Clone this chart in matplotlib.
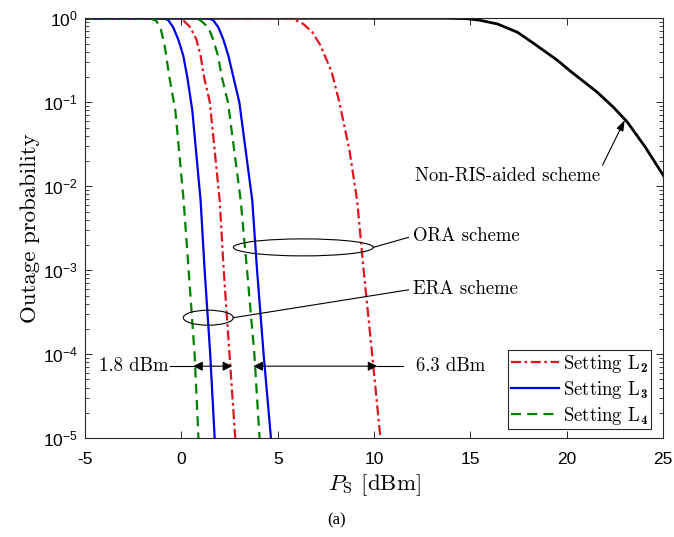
"""Outage probability versus transmit power for the ERA / ORA / non-RIS schemes."""

import matplotlib

matplotlib.use('Agg')
import matplotlib.pyplot as plt
from matplotlib.lines import Line2D
from matplotlib.patches import Ellipse
from matplotlib.ticker import LogLocator, NullFormatter

plt.rcParams.update(
    {
        'font.family': 'cmr10',
        'mathtext.fontset': 'custom',
        'mathtext.rm': 'cmr10',
        'mathtext.it': 'cmmi10',
        'mathtext.bf': 'cmb10',
        'mathtext.sf': 'Liberation Sans',
        'axes.formatter.use_mathtext': True,
    }
)

# Curves (P_S in dBm, outage probability).
ERA_L4_X = [-5, -1.9, -1.55, -1.3, -1.09, -0.88, -0.62, -0.31, 0.12, 0.38, 0.69, 0.89]
ERA_L4_Y = [1, 1, 0.985, 0.93, 0.78, 0.5, 0.2, 0.08, 0.0068, 1e-3, 1e-4, 1e-5]

ERA_L3_X = [-5, -1.05, -0.82, -0.67, -0.42, -0.16, 0.10, 0.31, 0.57, 1.0, 1.21, 1.50, 1.73]
ERA_L3_Y = [1, 1, 0.985, 0.946, 0.78, 0.56, 0.36, 0.2, 0.08, 0.0068, 1e-3, 1e-4, 1e-5]

ERA_L2_X = [-5, -0.25, -0.05, 0.10, 0.47, 0.78, 1.0, 1.18, 1.48, 1.99, 2.2, 2.5, 2.8]
ERA_L2_Y = [1, 1, 0.985, 0.946, 0.78, 0.56, 0.36, 0.2, 0.1, 0.0068, 1e-3, 1e-4, 1e-5]

ORA_L4_X = [-5, 0.6, 0.82, 0.99, 1.40, 1.65, 1.9, 2.1, 2.42, 3.08, 3.41, 3.79, 4.06]
ORA_L4_Y = [1, 1, 0.985, 0.946, 0.78, 0.56, 0.36, 0.2, 0.1, 0.0068, 1e-3, 1e-4, 1e-5]

ORA_L3_X = [-5, 1.25, 1.48, 1.66, 1.92, 2.18, 2.44, 2.70, 3.01, 3.68, 3.93, 4.27, 4.65]
ORA_L3_Y = [1, 1, 0.985, 0.946, 0.78, 0.56, 0.36, 0.2, 0.1, 0.0068, 1e-3, 1e-4, 1e-5]

ORA_L2_X = [-5, 5.2, 5.55, 5.81, 6.33, 6.8, 7.21, 7.8, 8.2, 8.72, 9.12, 9.46, 9.9, 10.33]
ORA_L2_Y = [1, 1, 0.995, 0.98, 0.855, 0.68, 0.48, 0.23, 0.1, 0.027, 0.0068, 1e-3, 1e-4, 1e-5]

NON_RIS_X = [-5, 13.8, 14.8, 15.5, 16.4, 17.44, 18.27, 19.51, 20.13, 21.59, 22.42, 23.14,
             24.08, 25]
NON_RIS_Y = [1, 1, 0.99, 0.946, 0.855, 0.681, 0.504, 0.316, 0.240, 0.131, 0.087, 0.058,
             0.029, 0.0135]

X_TICKS = [-5, 0, 5, 10, 15, 20, 25]
Y_TICKS = [1e-5, 1e-4, 1e-3, 1e-2, 1e-1, 1e0]
Y_TICK_LABELS = [r'$\mathsf{10^{-5}}$', r'$\mathsf{10^{-4}}$', r'$\mathsf{10^{-3}}$',
                 r'$\mathsf{10^{-2}}$', r'$\mathsf{10^{-1}}$', r'$\mathsf{10^{0}}$']

LEGEND_LABELS = [r'Setting L$_\mathbf{2}$', r'Setting L$_\mathbf{3}$', r'Setting L$_\mathbf{4}$']

RED = '#e0141e'
BLUE = '#0000e6'
GREEN = '#008000'
LINE_WIDTH = 1.6
DASH_DOT = (0, (4.5, 1.6, 1.2, 1.6))
DASHED = (0, (4.5, 2.8))
NOTE_SIZE = 13.5

# Gap annotations (dBm): where the two double arrows sit.
GAP_LEVEL = 7.2e-5
SMALL_GAP = (0.62, 2.64)
LARGE_GAP = (3.74, 10.17)


def _to_axes(ax, x, y):
    return (ax.transData + ax.transAxes.inverted()).transform((x, y))


def _ellipse_callout(ax, center, width, height, line_end):
    """Ellipse (in axes units so it stays round on the log axis) plus a leader line."""
    cx, cy = _to_axes(ax, *center)
    ax.add_patch(Ellipse((cx, cy), width, height, transform=ax.transAxes,
                         fill=False, edgecolor='k', linewidth=0.8, zorder=6))
    ex, ey = _to_axes(ax, *line_end)
    ax.plot([cx + width / 2, ex], [cy, ey], color='k', linewidth=0.8,
            transform=ax.transAxes, zorder=6)


def _double_arrow(ax, x0, x1, y):
    ax.annotate('', xy=(x1, y), xytext=(x0, y),
                arrowprops=dict(arrowstyle='<|-|>', color='k', lw=0.8,
                                mutation_scale=14, shrinkA=0, shrinkB=0),
                zorder=7)


def main():
    fig = plt.figure(figsize=(6.74, 5.37), dpi=100)
    ax = fig.add_axes([0.126, 0.184, 0.858, 0.782])

    ax.plot(NON_RIS_X, NON_RIS_Y, color='k', linewidth=2.0)
    ax.plot(ORA_L2_X, ORA_L2_Y, color=RED, linewidth=LINE_WIDTH, linestyle=DASH_DOT)
    ax.plot(ERA_L2_X, ERA_L2_Y, color=RED, linewidth=LINE_WIDTH, linestyle=DASH_DOT)
    ax.plot(ORA_L3_X, ORA_L3_Y, color=BLUE, linewidth=LINE_WIDTH)
    ax.plot(ERA_L3_X, ERA_L3_Y, color=BLUE, linewidth=LINE_WIDTH)
    ax.plot(ORA_L4_X, ORA_L4_Y, color=GREEN, linewidth=LINE_WIDTH, linestyle=DASHED)
    ax.plot(ERA_L4_X, ERA_L4_Y, color=GREEN, linewidth=LINE_WIDTH, linestyle=DASHED)

    ax.set_yscale('log')
    ax.set_xlim(-5, 25)
    ax.set_ylim(1e-5, 1)

    ax.set_xticks(X_TICKS)
    ax.set_xticklabels([str(t) for t in X_TICKS], family='Liberation Sans', fontsize=12.5)
    ax.set_yticks(Y_TICKS)
    ax.set_yticklabels(Y_TICK_LABELS, fontsize=12.5)
    ax.yaxis.set_minor_locator(LogLocator(base=10, subs=range(2, 10)))
    ax.yaxis.set_minor_formatter(NullFormatter())
    ax.tick_params(which='both', direction='in', top=True, right=True, color='#262626')
    ax.tick_params(which='major', length=5, width=0.7)
    ax.tick_params(axis='x', which='major', pad=10)
    ax.tick_params(axis='y', which='major', pad=5)
    ax.tick_params(which='minor', length=3, width=0.6)
    for spine in ax.spines.values():
        spine.set_color('#262626')
        spine.set_linewidth(0.8)

    ax.set_xlabel(r'$P_\mathrm{S}$ [dBm]', fontsize=16.5, labelpad=4)
    ax.set_ylabel('Outage probability', fontsize=16.5, labelpad=2)

    # Callouts.
    _ellipse_callout(ax, (6.33, 1.87e-3), 0.242, 0.0405, (11.78, 2.46e-3))
    ax.text(12.04, 2.53e-3, 'ORA scheme', fontsize=NOTE_SIZE, va='center', ha='left')
    _ellipse_callout(ax, (1.40, 2.72e-4), 0.0865, 0.0357, (11.78, 5.84e-4))
    ax.text(12.04, 5.98e-4, 'ERA scheme', fontsize=NOTE_SIZE, va='center', ha='left')

    _double_arrow(ax, *SMALL_GAP, GAP_LEVEL)
    ax.plot([-0.57, SMALL_GAP[0]], [GAP_LEVEL, GAP_LEVEL], color='k', linewidth=0.8)
    ax.text(-0.65, GAP_LEVEL, '1.8 dBm', fontsize=NOTE_SIZE, va='center', ha='right')

    _double_arrow(ax, *LARGE_GAP, GAP_LEVEL)
    ax.plot([LARGE_GAP[1], 11.52], [GAP_LEVEL, GAP_LEVEL], color='k', linewidth=0.8)
    ax.text(12.2, GAP_LEVEL, '6.3 dBm', fontsize=NOTE_SIZE, va='center', ha='left')

    ax.annotate('', xy=(23.0, 0.061), xytext=(21.85, 0.0178),
                arrowprops=dict(arrowstyle='-|>,head_length=0.45,head_width=0.16',
                                color='k', lw=0.8, mutation_scale=14,
                                shrinkA=0, shrinkB=0))
    ax.text(16.92, 0.0134, 'Non-RIS-aided scheme', fontsize=NOTE_SIZE,
            va='center', ha='center')

    handles = [
        Line2D([], [], color=RED, linewidth=LINE_WIDTH, linestyle=DASH_DOT),
        Line2D([], [], color=BLUE, linewidth=LINE_WIDTH),
        Line2D([], [], color=GREEN, linewidth=LINE_WIDTH, linestyle=DASHED),
    ]
    legend = ax.legend(handles, LEGEND_LABELS, loc='lower right',
                       bbox_to_anchor=(0.979, 0.021), fontsize=NOTE_SIZE,
                       frameon=True, fancybox=False, edgecolor='#262626',
                       framealpha=1, handlelength=2.6, handletextpad=0.2,
                       labelspacing=0.2, borderpad=0.15, borderaxespad=0)
    legend.get_frame().set_linewidth(0.8)

    fig.text(337 / 674, 1 - 520 / 537, '(a)', family='Liberation Serif',
             fontsize=12, ha='center', va='center')

    fig.savefig('out.png', dpi=100)


if __name__ == '__main__':
    main()
